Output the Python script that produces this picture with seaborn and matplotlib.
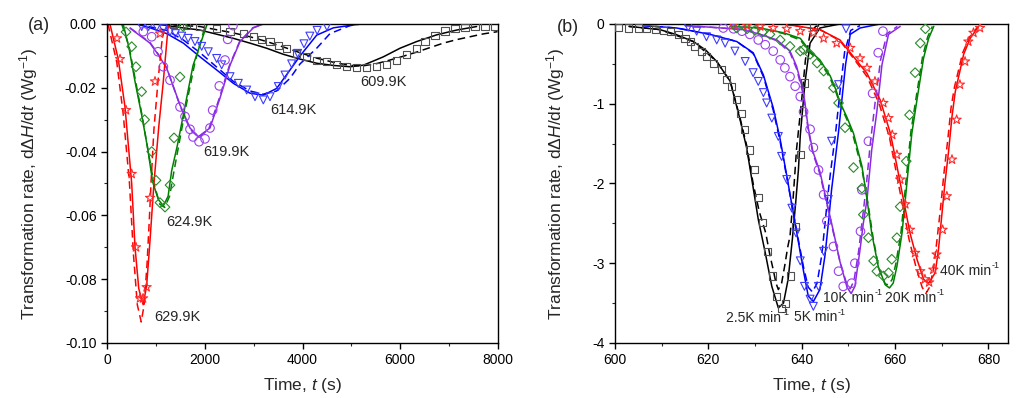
import matplotlib
matplotlib.use('Agg')
import matplotlib.pyplot as plt
import seaborn as sns
from matplotlib.ticker import MultipleLocator, FuncFormatter

sns.set_style('ticks')
plt.rcParams['font.family'] = ['Liberation Sans', 'DejaVu Sans']
plt.rcParams['mathtext.fontset'] = 'custom'
plt.rcParams['mathtext.rm'] = 'Liberation Sans'
plt.rcParams['mathtext.it'] = 'Liberation Sans:italic'
plt.rcParams['axes.unicode_minus'] = False

# =====================================================================
# (a) isothermal runs: time (s) vs rate (W/g)
# =====================================================================
t_6099_exp = [1357, 1630, 1903, 2244, 2517, 2790, 2994, 3165, 3335, 3505, 3676, 3880, 4085, 4290, 4495, 4700,
              4904, 5108, 5316, 5521, 5726, 5930, 6131, 6336, 6506, 6711, 6915, 7120, 7325, 7530, 7734, 7939]
y_6099_exp = [-0.0003, -0.0006, -0.0008, -0.0014, -0.0024, -0.0030, -0.0040, -0.0050, -0.0055, -0.0068, -0.0076,
              -0.0092, -0.0103, -0.0113, -0.0118, -0.0126, -0.0134, -0.0137, -0.0137, -0.0134, -0.0128, -0.0113,
              -0.0095, -0.0076, -0.0055, -0.0037, -0.0022, -0.0014, -0.0010, -0.0008, -0.0008, -0.0008]
t_6099_fit = [1016, 1357, 1903, 2585, 2926, 3267, 3608, 3950, 4290, 4632, 4973, 5248, 5653, 5995, 6336, 6745, 7153, 7562]
y_6099_fit = [0.0, -0.0008, -0.0019, -0.0045, -0.0060, -0.0076, -0.0095, -0.0110, -0.0123, -0.0130, -0.0134,
              -0.0129, -0.0103, -0.0076, -0.0055, -0.0034, -0.0019, -0.0008]
t_6099_alt = [1357, 1903, 2585, 2926, 3267, 3608, 3950, 4290, 4632, 4973, 5248, 5520, 5790, 6064, 6336, 6608,
              6881, 7153, 7427, 7700, 7990]
y_6099_alt = [-0.0003, -0.0008, -0.0028, -0.0040, -0.0055, -0.0072, -0.0090, -0.0107, -0.0120, -0.0130, -0.0131,
              -0.0124, -0.0113, -0.0101, -0.0088, -0.0074, -0.0060, -0.0049, -0.0040, -0.0031, -0.0024]

t_6149_exp = [709, 850, 1016, 1150, 1289, 1400, 1528, 1660, 1800, 1937, 2073, 2244, 2346, 2517, 2687, 2858,
              3028, 3198, 3335, 3505, 3642, 3778, 3900, 4030, 4150, 4300, 4500]
y_6149_exp = [-0.0008, -0.0008, -0.0010, -0.0015, -0.0024, -0.0030, -0.0038, -0.0045, -0.0055, -0.0070, -0.0087,
              -0.0108, -0.0128, -0.0165, -0.0186, -0.0207, -0.0228, -0.0238, -0.0228, -0.0196, -0.0160, -0.0125,
              -0.0092, -0.0062, -0.0038, -0.0020, -0.0008]
t_6149_fit = [607, 900, 1221, 1562, 1903, 2244, 2585, 2926, 3198, 3471, 3745, 3950, 4290, 4632, 5180]
y_6149_fit = [0.0, -0.0013, -0.0030, -0.0060, -0.0103, -0.0144, -0.0186, -0.0217, -0.0223, -0.0202, -0.0144,
              -0.0100, -0.0035, -0.0012, 0.0]
t_6149_alt = [607, 1221, 1562, 1903, 2244, 2585, 2926, 3198, 3471, 3745, 3950, 4290, 4563, 4973, 5200]
y_6149_alt = [0.0, -0.0020, -0.0050, -0.0090, -0.0135, -0.0180, -0.0210, -0.0220, -0.0210, -0.0170, -0.0125,
              -0.0076, -0.0030, -0.0005, 0.0]

t_6199_exp = [743, 914, 1043, 1153, 1289, 1494, 1596, 1698, 1760, 1883, 2005, 2107, 2162, 2298, 2414, 2469, 2578]
y_6199_exp = [-0.0024, -0.0040, -0.0087, -0.0134, -0.0176, -0.0260, -0.0290, -0.0330, -0.0354, -0.0369, -0.0360,
              -0.0326, -0.0270, -0.0194, -0.0113, -0.0048, -0.0005]
t_6199_fit = [470, 880, 1050, 1220, 1494, 1698, 1869, 2107, 2312, 2517, 2721, 2994, 3200]
y_6199_fit = [-0.0013, -0.0060, -0.0097, -0.0138, -0.0254, -0.0326, -0.0353, -0.0326, -0.0232, -0.0129, -0.0055,
              -0.0012, 0.0]
t_6199_alt = [470, 880, 1050, 1220, 1494, 1698, 1880, 2080, 2290, 2500, 2710, 2980, 3200]
y_6199_alt = [-0.0012, -0.0058, -0.0095, -0.0137, -0.0256, -0.0330, -0.0356, -0.0330, -0.0236, -0.0132, -0.0056,
              -0.0012, 0.0]

t_6249_exp = [389, 505, 593, 709, 770, 914, 1003, 1084, 1187, 1289, 1371, 1494, 1560]
y_6249_exp = [-0.0025, -0.0071, -0.0134, -0.0212, -0.0300, -0.0400, -0.0490, -0.0560, -0.0574, -0.0505, -0.0357,
              -0.0166, -0.0008]
t_6249_fit = [330, 450, 573, 709, 832, 934, 1050, 1153, 1250, 1323, 1440, 1562, 1760, 2050]
y_6249_fit = [0.0, -0.0075, -0.0180, -0.0285, -0.0390, -0.0495, -0.0550, -0.0570, -0.0540, -0.0460, -0.0380,
              -0.0285, -0.0130, 0.0]
t_6249_alt = [300, 450, 573, 709, 832, 960, 1080, 1180, 1280, 1360, 1480, 1600, 1800, 2000]
y_6249_alt = [0.0, -0.0070, -0.0170, -0.0280, -0.0390, -0.0500, -0.0565, -0.0575, -0.0540, -0.0470, -0.0370,
              -0.0270, -0.0120, -0.0010]

t_6299_exp = [205, 266, 389, 505, 593, 675, 737, 810, 880, 982, 1084]
y_6299_exp = [-0.0045, -0.0110, -0.0270, -0.0470, -0.0700, -0.0860, -0.0860, -0.0825, -0.0545, -0.0180, -0.0030]
t_6299_fit = [60, 230, 368, 505, 573, 650, 740, 811, 870, 960, 1060, 1152, 1255]
y_6299_fit = [0.0, -0.0110, -0.0260, -0.0500, -0.0700, -0.0830, -0.0880, -0.0820, -0.0700, -0.0500, -0.0320,
              -0.0180, 0.0]
t_6299_alt = [20, 200, 330, 460, 540, 620, 700, 760, 820, 870, 900, 960, 1043, 1120, 1187]
y_6299_alt = [0.0, -0.0120, -0.0280, -0.0500, -0.0720, -0.0880, -0.0934, -0.0880, -0.0750, -0.0600, -0.0500,
              -0.0330, -0.0180, -0.0060, 0.0]

# =====================================================================
# (b) non-isothermal runs: temperature-time axis vs rate
# =====================================================================
T_025_exp = [600.7, 602.9, 605.0, 606.8, 608.6, 610.4, 611.8, 613.6, 615.0, 616.1, 617.1, 618.6, 619.6, 621.1,
             622.9, 623.9, 625.0, 626.1, 627.0, 627.8, 628.8, 629.8, 630.7, 631.7, 632.7, 633.7, 634.6, 635.7,
             636.6, 637.7, 638.6, 639.7, 640.7, 642.5]
r_025_exp = [-0.04, -0.05, -0.05, -0.06, -0.07, -0.08, -0.09, -0.13, -0.18, -0.22, -0.28, -0.34, -0.41, -0.49,
             -0.57, -0.70, -0.78, -0.95, -1.12, -1.32, -1.58, -1.83, -2.17, -2.49, -2.85, -3.16, -3.42, -3.57,
             -3.50, -3.16, -2.54, -1.64, -0.74, -0.03]
T_025_fit = [603, 609.6, 613.0, 616.8, 619.5, 621.8, 624.7, 626.8, 628.2, 629.6, 630.7, 632.2, 633.6, 635.0,
             636.1, 637.1, 638.0, 638.7, 639.3, 639.7, 640.7, 641.8, 643.9, 648.2, 656.0]
r_025_fit = [-0.03, -0.07, -0.13, -0.22, -0.33, -0.47, -0.72, -1.20, -1.55, -2.05, -2.45, -2.87, -3.29, -3.56,
             -3.50, -3.20, -2.70, -2.25, -1.83, -1.40, -0.74, -0.24, -0.05, 0.0, 0.0]
T_025_alt = [603, 609.6, 616.8, 621.8, 624.7, 626.8, 628.2, 629.6, 630.9, 632.3, 633.2, 633.9, 634.5, 635.0,
             635.7, 636.4, 637.0, 637.5, 638.1, 638.9, 640.0, 640.8, 641.8, 643.0, 646.0]
r_025_alt = [-0.03, -0.07, -0.22, -0.47, -0.72, -1.18, -1.52, -2.00, -2.35, -2.62, -2.90, -3.08, -3.25, -3.33,
             -3.25, -3.02, -2.80, -2.66, -2.24, -1.57, -0.95, -0.45, -0.12, -0.03, 0.0]

T_05_exp = [615.7, 617.5, 619.6, 621.8, 623.6, 625.7, 627.9, 629.6, 630.7, 631.8, 632.5, 633.6, 635.0, 635.7,
            636.8, 637.9, 638.8, 639.7, 640.6, 641.8, 642.5, 643.6, 644.7, 645.7, 646.4, 647.9, 649.5]
r_05_exp = [-0.04, -0.09, -0.16, -0.20, -0.24, -0.34, -0.47, -0.61, -0.72, -0.86, -0.99, -1.18, -1.41, -1.66,
            -1.95, -2.31, -2.62, -2.97, -3.29, -3.45, -3.54, -3.29, -2.85, -2.20, -1.47, -0.76, -0.06]
T_05_fit = [606, 613.2, 620.4, 626.1, 629.6, 631.8, 633.9, 635.4, 636.8, 638.0, 639.2, 640.4, 641.4, 642.5,
            643.9, 645.0, 645.8, 646.4, 646.8, 647.9, 649.4, 650.4, 652.5, 656.8]
r_05_fit = [-0.02, -0.05, -0.13, -0.22, -0.36, -0.64, -1.05, -1.45, -1.90, -2.30, -2.70, -3.10, -3.41, -3.48,
            -3.33, -2.90, -2.45, -2.08, -1.89, -1.35, -0.51, -0.13, -0.05, 0.0]
T_05_alt = [606, 613.2, 620.4, 626.1, 629.6, 631.8, 633.9, 635.4, 636.8, 638.0, 639.2, 640.4, 641.4, 642.3,
            643.3, 644.3, 645.0, 645.6, 646.2, 647.2, 648.2, 649.2, 650.5, 652.5]
r_05_alt = [-0.02, -0.05, -0.13, -0.22, -0.37, -0.66, -1.08, -1.48, -1.92, -2.30, -2.68, -3.05, -3.30, -3.36,
            -3.25, -2.90, -2.50, -2.15, -1.85, -1.40, -0.85, -0.35, -0.08, -0.02]

T_10_exp = [623.2, 625.4, 627.2, 628.9, 630.7, 632.2, 633.9, 635.4, 636.4, 637.5, 638.6, 639.7, 640.4, 641.8,
            642.5, 643.6, 644.7, 645.4, 646.8, 647.9, 648.9, 650.7, 651.4, 652.6, 652.9, 654.3, 655.2, 656.4, 657.4]
r_10_exp = [-0.05, -0.06, -0.09, -0.13, -0.20, -0.26, -0.34, -0.45, -0.55, -0.66, -0.78, -0.91, -1.10, -1.32,
            -1.55, -1.83, -2.14, -2.47, -2.79, -3.10, -3.29, -3.25, -3.00, -2.60, -2.08, -1.47, -0.87, -0.36, -0.09]
T_10_fit = [615, 620.4, 627.5, 631.1, 634.7, 637.5, 638.9, 640.4, 641.4, 642.4, 643.9, 645.4, 646.8, 648.2,
            649.7, 650.6, 651.4, 652.5, 653.2, 654.0, 655.0, 656.1, 657.2, 658.6, 661.1]
r_10_fit = [-0.02, -0.04, -0.07, -0.13, -0.20, -0.34, -0.53, -0.86, -1.30, -1.60, -1.85, -2.24, -2.60, -2.98,
            -3.30, -3.38, -3.29, -2.83, -2.50, -2.20, -1.58, -1.10, -0.51, -0.13, -0.03]
T_10_alt = [615, 620.4, 627.5, 631.1, 634.7, 637.5, 638.9, 640.4, 641.4, 642.4, 643.9, 645.4, 646.8, 648.2,
            649.7, 650.4, 651.2, 652.2, 653.0, 653.8, 654.7, 655.7, 656.9, 658.3, 660.5]
r_10_alt = [-0.02, -0.04, -0.07, -0.13, -0.21, -0.36, -0.56, -0.90, -1.33, -1.62, -1.88, -2.26, -2.62, -2.98,
            -3.27, -3.32, -3.22, -2.85, -2.45, -2.05, -1.50, -1.00, -0.45, -0.12, -0.03]

T_20_exp = [626.1, 628.3, 630.0, 631.6, 633.2, 635.4, 637.5, 639.7, 640.4, 641.8, 643.3, 644.7, 646.8, 647.9,
            649.3, 651.1, 652.9, 653.2, 654.3, 655.4, 656.1, 657.5, 658.6, 659.3, 660.4, 661.1, 662.4, 663.1,
            664.3, 665.4, 666.5]
r_20_exp = [-0.05, -0.06, -0.08, -0.10, -0.13, -0.20, -0.28, -0.34, -0.32, -0.38, -0.49, -0.59, -0.80, -0.99,
            -1.30, -1.80, -2.06, -2.39, -2.68, -2.97, -3.10, -3.16, -3.12, -2.95, -2.68, -2.29, -1.72, -1.14,
            -0.61, -0.24, -0.06]
T_20_fit = [624.7, 631.1, 636.1, 639.7, 641.8, 643.9, 646.1, 647.3, 648.2, 649.7, 651.1, 652.9, 654.0, 655.0,
            656.4, 657.9, 658.8, 659.6, 660.4, 661.5, 662.2, 662.9, 663.6, 664.7, 666.1, 667.2, 668.3]
r_20_fit = [-0.03, -0.05, -0.11, -0.18, -0.34, -0.45, -0.65, -0.82, -0.98, -1.17, -1.37, -1.78, -2.20, -2.62,
            -3.04, -3.27, -3.31, -3.25, -3.04, -2.62, -2.20, -1.78, -1.37, -0.95, -0.43, -0.18, -0.03]
T_20_alt = [624.7, 631.1, 636.1, 639.7, 641.8, 643.9, 646.1, 647.3, 648.2, 649.7, 651.1, 652.9, 654.2, 655.3,
            656.6, 657.9, 658.6, 659.4, 660.2, 661.3, 662.0, 662.7, 663.4, 664.5, 665.9, 667.0, 668.0]
r_20_alt = [-0.03, -0.05, -0.12, -0.20, -0.36, -0.47, -0.68, -0.85, -1.00, -1.20, -1.42, -1.82, -2.25, -2.68,
            -3.08, -3.26, -3.27, -3.20, -3.00, -2.60, -2.18, -1.76, -1.35, -0.93, -0.41, -0.16, -0.03]

T_40_exp = [625.4, 628.3, 631.1, 633.9, 636.8, 639.7, 642.5, 644.7, 647.5, 650.4, 652.5, 654.0, 655.7, 657.5,
            658.6, 659.4, 660.4, 661.1, 662.2, 663.2, 664.3, 665.4, 666.4, 667.3, 668.2, 668.9, 670.2, 671.1,
            672.2, 673.2, 673.9, 675.0, 675.7, 676.8, 678.2]
r_40_exp = [-0.01, -0.02, -0.03, -0.05, -0.06, -0.09, -0.11, -0.18, -0.24, -0.30, -0.43, -0.55, -0.72, -0.99,
            -1.18, -1.39, -1.64, -1.95, -2.26, -2.58, -2.87, -3.10, -3.20, -3.24, -3.08, -2.89, -2.58, -2.16,
            -1.70, -1.20, -0.76, -0.47, -0.22, -0.11, -0.05]
T_40_fit = [636.1, 643.9, 648.2, 651.1, 654.0, 656.8, 659.0, 660.4, 661.8, 663.2, 664.7, 666.1, 667.2, 668.6,
            669.3, 670.0, 670.7, 671.5, 672.2, 672.9, 674.7, 676.1, 677.9]
r_40_fit = [0.0, -0.07, -0.20, -0.41, -0.62, -0.95, -1.37, -1.78, -2.20, -2.62, -2.95, -3.20, -3.25, -3.12,
            -2.83, -2.41, -1.99, -1.58, -1.16, -0.85, -0.38, -0.18, -0.03]
T_40_alt = [636.1, 643.9, 648.2, 651.1, 654.0, 656.6, 658.8, 660.2, 661.6, 663.0, 664.5, 665.8, 666.6, 667.4,
            668.3, 669.0, 669.8, 670.5, 671.3, 672.0, 672.7, 674.5, 676.0, 677.8]
r_40_alt = [0.0, -0.07, -0.21, -0.43, -0.66, -1.00, -1.42, -1.84, -2.27, -2.70, -3.05, -3.30, -3.38, -3.30,
            -3.05, -2.70, -2.28, -1.86, -1.45, -1.05, -0.80, -0.36, -0.16, -0.03]

labels_a = ['609.9K', '614.9K', '619.9K', '624.9K', '629.9K']
labels_b = ['2.5K min', '5K min', '10K min', '20K min', '40K min']

line_colors = ['#000000', '#0000ff', '#8a2be2', '#008000', '#ff0000']
mark_colors = ['#505050', '#3c3cff', '#9a40f0', '#2a8a2a', '#ff2a2a']
markers = ['s', 'v', 'o', 'D', '*']
msizes = [26, 32, 38, 24, 48]


def draw(ax, xe, ye, xf, yf, xa, ya, i):
    sns.lineplot(x=xf, y=yf, ax=ax, color=line_colors[i], linewidth=1.1, estimator=None, sort=False)
    sns.lineplot(x=xa, y=ya, ax=ax, color=line_colors[i], linewidth=1.1, linestyle=(0, (5, 3)),
                 estimator=None, sort=False)
    sns.scatterplot(x=xe, y=ye, ax=ax, marker=markers[i], s=msizes[i], facecolor='none',
                    edgecolor=mark_colors[i], linewidth=0.8, legend=False, zorder=3)


fig = plt.figure(figsize=(10.27, 3.98), dpi=100)
ax1 = fig.add_axes([0.1042, 0.1382, 0.3807, 0.8015])
ax2 = fig.add_axes([0.5988, 0.1382, 0.3827, 0.8015])

series_a = [(t_6099_exp, y_6099_exp, t_6099_fit, y_6099_fit, t_6099_alt, y_6099_alt),
            (t_6149_exp, y_6149_exp, t_6149_fit, y_6149_fit, t_6149_alt, y_6149_alt),
            (t_6199_exp, y_6199_exp, t_6199_fit, y_6199_fit, t_6199_alt, y_6199_alt),
            (t_6249_exp, y_6249_exp, t_6249_fit, y_6249_fit, t_6249_alt, y_6249_alt),
            (t_6299_exp, y_6299_exp, t_6299_fit, y_6299_fit, t_6299_alt, y_6299_alt)]
series_b = [(T_025_exp, r_025_exp, T_025_fit, r_025_fit, T_025_alt, r_025_alt),
            (T_05_exp, r_05_exp, T_05_fit, r_05_fit, T_05_alt, r_05_alt),
            (T_10_exp, r_10_exp, T_10_fit, r_10_fit, T_10_alt, r_10_alt),
            (T_20_exp, r_20_exp, T_20_fit, r_20_fit, T_20_alt, r_20_alt),
            (T_40_exp, r_40_exp, T_40_fit, r_40_fit, T_40_alt, r_40_alt)]

for i, s in enumerate(series_a):
    draw(ax1, *s, i)
for i, s in enumerate(series_b):
    draw(ax2, *s, i)

# curve labels
pos_a = [(5180, -0.0181), (3335, -0.0270), (1971, -0.0400), (1221, -0.0620), (962, -0.0918)]
for lab, (x, y) in zip(labels_a, pos_a):
    ax1.text(x, y, lab, fontsize=10.5, ha='left', va='center')
pos_b = [(623.8, -3.69), (638.3, -3.68), (644.6, -3.43), (657.8, -3.43), (669.7, -3.10)]
for lab, (x, y) in zip(labels_b, pos_b):
    t = ax2.text(x, y, lab, fontsize=10, ha='left', va='center')
    # small raised "-1" right after the unit
    ax2.annotate('-1', xy=(1, 1), xycoords=t, xytext=(0.3, 2), textcoords='offset points',
                 fontsize=6.5, ha='left', va='top')

# axes cosmetics
ax1.set_xlim(0, 8000)
ax1.set_ylim(-0.10, 0.0)
ax1.xaxis.set_major_locator(MultipleLocator(2000))
ax1.xaxis.set_minor_locator(MultipleLocator(1000))
ax1.yaxis.set_major_locator(MultipleLocator(0.02))
ax1.yaxis.set_minor_locator(MultipleLocator(0.01))
ax1.yaxis.set_major_formatter(FuncFormatter(lambda v, p: '0.00' if abs(v) < 1e-9 else f'{v:.2f}'))

ax2.set_xlim(600, 684.2)
ax2.set_ylim(-4, 0)
ax2.xaxis.set_major_locator(MultipleLocator(20))
ax2.xaxis.set_minor_locator(MultipleLocator(10))
ax2.yaxis.set_major_locator(MultipleLocator(1))
ax2.yaxis.set_minor_locator(MultipleLocator(0.5))
ax2.yaxis.set_major_formatter(FuncFormatter(lambda v, p: f'{round(v):d}'))

ylab = 'Transformation rate, d\u0394$\\mathit{H}$/d$\\mathit{t}$ (Wg$^{-1}$)'
for ax, yx in [(ax1, -0.171), (ax2, -0.122)]:
    for sp in ax.spines.values():
        sp.set_linewidth(1.0)
        sp.set_color('black')
    ax.tick_params(which='major', direction='out', length=4, width=1, labelsize=10, colors='black')
    ax.tick_params(which='minor', direction='out', length=2.5, width=0.8)
    ax.set_xlabel('Time, $\\mathit{t}$ (s)', fontsize=12.5, labelpad=6)
    ax.set_ylabel(ylab, fontsize=12.5)
    ax.yaxis.set_label_coords(yx, 0.5)

fig.text(28 / 1027, 1 - 25 / 398, '(a)', fontsize=13, va='center', ha='left')
fig.text(557 / 1027, 1 - 27 / 398, '(b)', fontsize=13, va='center', ha='left')

fig.savefig('out.png', dpi=100)
